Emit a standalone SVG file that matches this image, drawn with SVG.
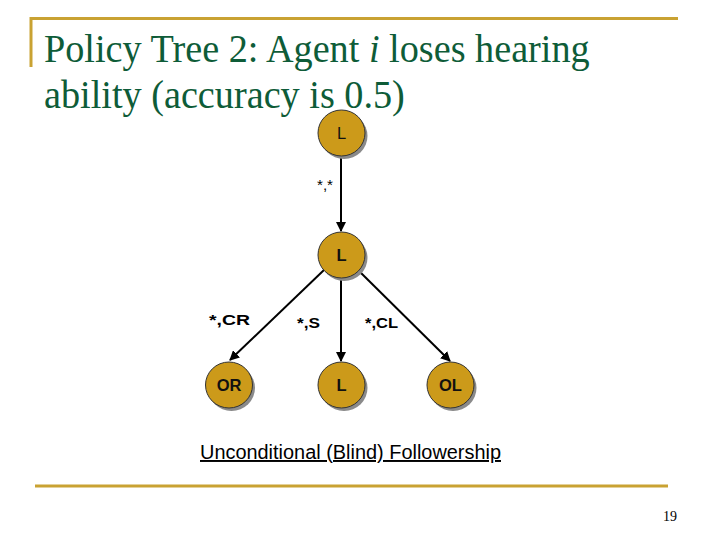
<svg xmlns="http://www.w3.org/2000/svg" width="720" height="540" viewBox="0 0 720 540">
<defs>
<style>
.rule{stroke:#C9A232;stroke-width:3;fill:none}
.title{font-family:"Liberation Serif",serif;font-size:40px;fill:#0E5C38}
.node ellipse.body{fill:#CC9A1A;stroke:#333;stroke-width:1}
.node ellipse.shadow{fill:#8a8a8a}
.node text{font-family:"Liberation Sans",sans-serif;font-size:16.5px;font-weight:bold;fill:#111;text-anchor:middle}
.edge{stroke:#000;stroke-width:2;fill:none;marker-end:url(#arr)}
.lbl{font-family:"Liberation Sans",sans-serif;font-size:15px;font-weight:bold;fill:#000}
</style>
<marker id="arr" viewBox="0 0 10 10" refX="9" refY="5" markerWidth="5" markerHeight="5" orient="auto" markerUnits="strokeWidth">
<path d="M0,0 L10,5 L0,10 z" fill="#000"/>
</marker>
</defs>
<rect width="720" height="540" fill="#fff"/>
<line class="rule" x1="30" y1="18.5" x2="678" y2="18.5"/>
<line class="rule" x1="31" y1="17" x2="31" y2="67"/>
<line class="rule" x1="35" y1="486" x2="668" y2="486"/>
<g id="title" transform="translate(44,0) scale(0.956,1)">
<text class="title" x="0" y="62">Policy Tree 2: Agent <tspan font-style="italic">i</tspan> loses hearing</text>
<text class="title" x="0" y="108">ability (accuracy is 0.5)</text>
</g>
<g id="connectors">
<line class="edge" x1="341" y1="155" x2="341" y2="231"/>
<line class="edge" x1="324" y1="270" x2="230" y2="360"/>
<line class="edge" x1="341" y1="277" x2="341" y2="361"/>
<line class="edge" x1="358" y1="270" x2="450" y2="361"/>
<text class="lbl" style="font-weight:normal;font-size:14px" x="317" y="190" textLength="16" lengthAdjust="spacingAndGlyphs">*,*</text>
<text class="lbl" x="209" y="325" textLength="41" lengthAdjust="spacingAndGlyphs">*,CR</text>
<text class="lbl" x="297" y="328" textLength="23" lengthAdjust="spacingAndGlyphs">*,S</text>
<text class="lbl" x="365" y="328" textLength="33" lengthAdjust="spacingAndGlyphs">*,CL</text>
</g>
<g id="n_top" class="node"><ellipse class="shadow" cx="344" cy="136" rx="23.5" ry="23"/><ellipse class="body" cx="341.5" cy="133" rx="23.5" ry="23"/><text x="341.5" y="139" style="font-weight:normal">L</text></g>
<g id="n_mid" class="node"><ellipse class="shadow" cx="344" cy="258" rx="23.5" ry="23"/><ellipse class="body" cx="341.5" cy="255" rx="23.5" ry="23"/><text x="341.5" y="261">L</text></g>
<g id="n_or" class="node"><ellipse class="shadow" cx="231.5" cy="388" rx="23.5" ry="23"/><ellipse class="body" cx="229" cy="385" rx="23.5" ry="23"/><text x="229" y="391">OR</text></g>
<g id="n_l" class="node"><ellipse class="shadow" cx="344" cy="388" rx="23.5" ry="23"/><ellipse class="body" cx="341.5" cy="385" rx="23.5" ry="23"/><text x="341.5" y="391">L</text></g>
<g id="n_ol" class="node"><ellipse class="shadow" cx="453" cy="388" rx="23.5" ry="23"/><ellipse class="body" cx="450.5" cy="385" rx="23.5" ry="23"/><text x="450.5" y="391">OL</text></g>
<text x="200" y="459" font-family="Liberation Sans, sans-serif" font-size="19.5" fill="#000" text-decoration="underline" textLength="301" lengthAdjust="spacingAndGlyphs">Unconditional (Blind) Followership</text>
<text x="677" y="521" font-family="Liberation Serif, serif" font-size="14" fill="#000" text-anchor="end">19</text>
</svg>
